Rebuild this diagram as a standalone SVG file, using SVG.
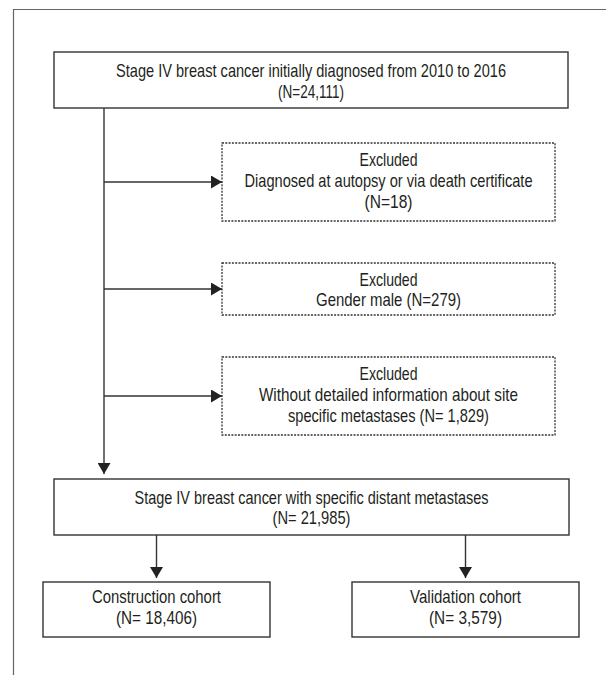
<svg xmlns="http://www.w3.org/2000/svg" width="606" height="675" viewBox="0 0 606 675">
<style>
.frame{fill:none;stroke:#666;stroke-width:1.2}
.box{fill:#fff;stroke:#333;stroke-width:1.4}
.dbox{fill:#fff;stroke:#333;stroke-width:1.3;stroke-dasharray:2 1.3}
.conn{fill:none;stroke:#333;stroke-width:1.4}
text{font-family:"Liberation Sans",Arial,sans-serif;font-size:18.5px;fill:#231f20;text-anchor:middle}
</style>
<defs>
<marker id="ah" viewBox="0 0 11 13" refX="11" refY="6.5" markerWidth="11" markerHeight="13" markerUnits="userSpaceOnUse" orient="auto">
<path d="M0,0 L11,6.5 L0,13 z" fill="#222"/>
</marker>
</defs>
<g id="frame">
<path class="frame" d="M13.5,675 L13.5,9.5 L606,9.5"/>
</g>
<g id="connectors">
<path class="conn" d="M104,108 L104,474" marker-end="url(#ah)"/>
<path class="conn" d="M104,182 L222,182" marker-end="url(#ah)"/>
<path class="conn" d="M104,289 L222,289" marker-end="url(#ah)"/>
<path class="conn" d="M104,396 L222,396" marker-end="url(#ah)"/>
<path class="conn" d="M156.5,535 L156.5,578" marker-end="url(#ah)"/>
<path class="conn" d="M465.5,535 L465.5,578" marker-end="url(#ah)"/>
</g>
<g id="n_start">
<rect class="box" x="54" y="52" width="514" height="56"/>
<g transform="scale(0.8,1)">
<text x="388.75" y="77.5" textLength="487.5" lengthAdjust="spacingAndGlyphs">Stage IV breast cancer initially diagnosed from 2010 to 2016</text>
<text x="388.75" y="98" textLength="82.5" lengthAdjust="spacingAndGlyphs">(N=24,111)</text>
</g>
</g>
<g id="n_ex1">
<rect class="dbox" x="222" y="143" width="333" height="78"/>
<g transform="scale(0.8,1)">
<text x="485.625" y="166" textLength="72.5" lengthAdjust="spacingAndGlyphs">Excluded</text>
<text x="485.625" y="187.5" textLength="360" lengthAdjust="spacingAndGlyphs">Diagnosed at autopsy or via death certificate</text>
<text x="485.625" y="208" textLength="60" lengthAdjust="spacingAndGlyphs">(N=18)</text>
</g>
</g>
<g id="n_ex2">
<rect class="dbox" x="222" y="263" width="333" height="52"/>
<g transform="scale(0.8,1)">
<text x="485.625" y="285.5" textLength="72.5" lengthAdjust="spacingAndGlyphs">Excluded</text>
<text x="485.625" y="306" textLength="181.25" lengthAdjust="spacingAndGlyphs">Gender male (N=279)</text>
</g>
</g>
<g id="n_ex3">
<rect class="dbox" x="222" y="357" width="333" height="78"/>
<g transform="scale(0.8,1)">
<text x="485.625" y="380" textLength="72.5" lengthAdjust="spacingAndGlyphs">Excluded</text>
<text x="485.625" y="401.5" textLength="323.75" lengthAdjust="spacingAndGlyphs">Without detailed information about site</text>
<text x="485.625" y="422" textLength="251.25" lengthAdjust="spacingAndGlyphs">specific metastases (N= 1,829)</text>
</g>
</g>
<g id="n_mid">
<rect class="box" x="54" y="479" width="515" height="56"/>
<g transform="scale(0.8,1)">
<text x="389.375" y="504" textLength="442.5" lengthAdjust="spacingAndGlyphs">Stage IV breast cancer with specific distant metastases</text>
<text x="389.375" y="524.5" textLength="97.5" lengthAdjust="spacingAndGlyphs">(N= 21,985)</text>
</g>
</g>
<g id="n_construction">
<rect class="box" x="43" y="582" width="227" height="55"/>
<g transform="scale(0.8,1)">
<text x="195.625" y="603.5" textLength="161.25" lengthAdjust="spacingAndGlyphs">Construction cohort</text>
<text x="195.625" y="624" textLength="101.25" lengthAdjust="spacingAndGlyphs">(N= 18,406)</text>
</g>
</g>
<g id="n_validation">
<rect class="box" x="352" y="582" width="227" height="55"/>
<g transform="scale(0.8,1)">
<text x="581.875" y="603.5" textLength="138.75" lengthAdjust="spacingAndGlyphs">Validation cohort</text>
<text x="581.875" y="624" textLength="91.25" lengthAdjust="spacingAndGlyphs">(N= 3,579)</text>
</g>
</g>
</svg>
